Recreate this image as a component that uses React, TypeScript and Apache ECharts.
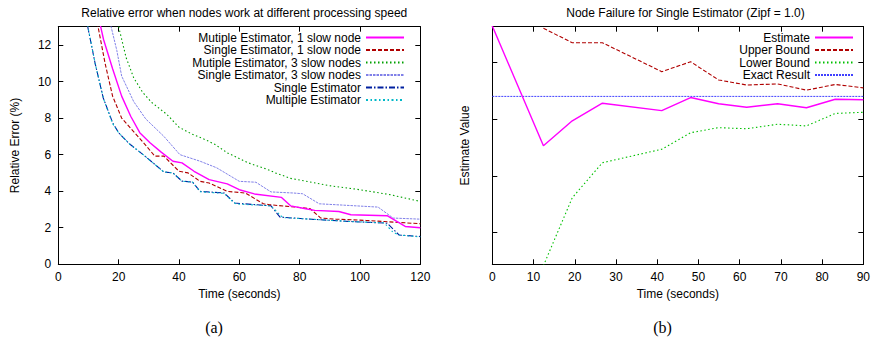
import React, { useEffect, useRef } from "react";
import * as echarts from "echarts";

const FONT = "'Liberation Sans', Arial, Helvetica, sans-serif";

// ---------- Chart (a): relative error (%) vs time (s) ----------
const leftTitle = "Relative error when nodes work at different processing speed";
const leftXTicks = { min: 0, max: 120, interval: 20 };
const leftYTicks = { min: 0, max: 13, interval: 2 };

const multi1Slow: [number, number][] = [
  [12, 14.5], [15, 12.3], [18, 10.7], [21, 9.2], [24, 8.1], [27, 7.2], [30.4, 6.65], [34, 6.15],
  [38, 5.64], [41, 5.55], [45, 5.09], [50, 4.63], [56, 4.4], [60, 4.08], [65, 3.85], [74, 3.66],
  [77, 3.2], [82, 3.04], [85, 2.95], [93, 2.89], [97, 2.71], [109, 2.66], [115, 2.07], [120, 2.0],
];
const single1Slow: [number, number][] = [
  [11, 14.5], [13.3, 12.9], [15.5, 11.0], [18, 9.2], [21, 8.0], [24.3, 7.38], [28, 6.7], [32, 5.92],
  [35, 5.92], [40, 5.09], [43, 5.0], [47, 4.54], [50, 4.45], [56, 3.99], [62, 3.9], [68, 3.31],
  [70, 3.26], [80, 3.11], [83.5, 3.04], [87, 2.53], [92, 2.47], [102, 2.4], [108, 2.34], [120, 2.22],
];
const multi3Slow: [number, number][] = [
  [18, 14.5], [20, 13.0], [22.5, 11.3], [25, 10.2], [28, 9.4], [31, 8.85], [36, 8.2], [40, 7.5],
  [44, 7.15], [49, 6.8], [52, 6.55], [56, 6.1], [63, 5.55], [70, 5.15], [72, 5.0], [77, 4.7],
  [82, 4.55], [90, 4.3], [100, 4.08], [110, 3.81], [120, 3.44],
];
const single3Slow: [number, number][] = [
  [15, 15.5], [17.5, 13.0], [19.4, 11.7], [21, 10.3], [25, 8.9], [29, 7.95], [35, 7.0], [40.3, 6.0],
  [47, 5.64], [52.5, 5.28], [60, 4.54], [65.5, 4.49], [70.5, 3.96], [78, 3.9], [81, 3.86],
  [86.5, 3.31], [92, 3.26], [106, 3.13], [111, 2.53], [120, 2.47],
];
const singleEst: [number, number][] = [
  [8, 15.5], [9.75, 13.0], [12.2, 11.0], [14.9, 9.1], [18, 7.75], [20, 7.2], [23.5, 6.6], [28.5, 5.95],
  [35, 5.05], [38, 5.0], [41, 4.55], [44.5, 4.5], [47, 3.99], [55, 3.9], [58.5, 3.35], [70.5, 3.2],
  [73.5, 2.58], [83.5, 2.47], [97, 2.34], [109, 2.25], [113, 1.6], [120, 1.52],
];
const multiEst: [number, number][] = [
  [8, 15.4], [9.8, 13.0], [12.2, 11.0], [15, 9.05], [18, 7.7], [20, 7.2], [23.5, 6.6], [28.5, 5.95],
  [35, 5.05], [38, 5.0], [41, 4.55], [44.5, 4.5], [47, 3.97], [55, 3.88], [58, 3.4], [59, 3.3],
  [70.5, 3.2], [74, 2.62], [75, 2.55], [83.5, 2.47], [97, 2.34], [108, 2.27], [111, 1.75], [113, 1.6],
  [120, 1.5],
];

// ---------- Chart (b): node failure, estimate vs time (s) ----------
const rightTitle = "Node Failure for Single Estimator (Zipf = 1.0)";
const rightXTicks = { min: 0, max: 90, interval: 10 };
const rightYRange = { min: -0.556, max: 3.627 }; // unlabeled axis, ticks at whole units
const rightTimes = [0, 12.4, 19.4, 26.7, 41.1, 48.1, 54.9, 61.7, 69.2, 76.2, 83.2, 90];
const estimate = [3.64, 1.53, 1.97, 2.28, 2.15, 2.38, 2.27, 2.21, 2.27, 2.2, 2.35, 2.34];
const upperBound = [null, 3.6, 3.345, 3.345, 2.835, 3.01, 2.69, 2.6, 2.62, 2.51, 2.61, 2.55];
const lowerBound = [null, -0.58, 0.616, 1.232, 1.47, 1.76, 1.85, 1.83, 1.91, 1.88, 2.1, 2.12];
const exactResult = [2.4, 2.4, 2.4, 2.4, 2.4, 2.4, 2.4, 2.4, 2.4, 2.4, 2.4, 2.4];

const captions = ["(a)", "(b)"];

const zipT = (vals: (number | null)[]) => rightTimes.map((t, i) => [t, vals[i]]);

export default function App() {
  const ref = useRef<HTMLDivElement>(null);
  useEffect(() => {
    if (!ref.current) return;
    const chart = echarts.init(ref.current, undefined, { renderer: "svg" });
    const axisLine = { show: true, onZero: false, lineStyle: { color: "#000", width: 1 } };
    const tick = { show: true, inside: true, length: 5, lineStyle: { color: "#000" } };
    const label = { color: "#000", fontSize: 12, fontFamily: FONT };
    const nameStyle = { color: "#000", fontSize: 12, fontFamily: FONT };

    const line = (name: string, data: any, x: number, y: number, color: string, width: number, type: any, z = 2) => ({
      name,
      type: "line",
      xAxisIndex: x,
      yAxisIndex: y,
      data,
      symbol: "none",
      showSymbol: false,
      clip: true,
      z,
      lineStyle: { color, width, type },
      itemStyle: { color },
    });

    const legendBase = {
      orient: "vertical",
      align: "right",
      top: 31.5,
      itemWidth: 38,
      itemHeight: 8,
      itemGap: 0.5,
      selectedMode: false,
      padding: 0,
      itemStyle: { opacity: 0 },
      textStyle: { fontSize: 12, color: "#000", fontFamily: FONT },
    };

    const option: any = {
      animation: false,
      backgroundColor: "#fff",
      textStyle: { fontFamily: FONT },
      title: [
        { text: leftTitle, left: 239.3, top: 2, textAlign: "center", textStyle: { fontSize: 12, fontWeight: "normal", color: "#000", fontFamily: FONT } },
        { text: rightTitle, left: 680.5, top: 2, textAlign: "center", textStyle: { fontSize: 12, fontWeight: "normal", color: "#000", fontFamily: FONT } },
      ],
      grid: [
        { left: 58.3, right: 452.7, top: 26.7, bottom: 80.7, containLabel: false },
        { left: 492.3, right: 4.6, top: 26.7, bottom: 80.7, containLabel: false },
      ],
      legend: [
        {
          ...legendBase,
          right: 468,
          data: [
            "Mutiple Estimator, 1 slow node",
            "Single Estimator, 1 slow node",
            "Mutiple Estimator, 3 slow nodes",
            "Single Estimator, 3 slow nodes",
            "Single Estimator",
            "Multiple Estimator",
          ],
        },
        {
          ...legendBase,
          right: 19,
          data: ["Estimate", "Upper Bound", "Lower Bound", "Exact Result"],
        },
      ],
      xAxis: [
        {
          type: "value", gridIndex: 0, position: "bottom", ...leftXTicks,
          name: "Time (seconds)", nameLocation: "middle", nameGap: 24, nameTextStyle: nameStyle,
          axisLine, axisTick: tick, splitLine: { show: false }, axisLabel: { ...label, margin: 7 },
        },
        {
          type: "value", gridIndex: 0, position: "top", ...leftXTicks,
          axisLine, axisTick: tick, splitLine: { show: false }, axisLabel: { show: false },
        },
        {
          type: "value", gridIndex: 1, position: "bottom", ...rightXTicks,
          name: "Time (seconds)", nameLocation: "middle", nameGap: 24, nameTextStyle: nameStyle,
          axisLine, axisTick: tick, splitLine: { show: false }, axisLabel: { ...label, margin: 7 },
        },
        {
          type: "value", gridIndex: 1, position: "top", ...rightXTicks,
          axisLine, axisTick: tick, splitLine: { show: false }, axisLabel: { show: false },
        },
      ],
      yAxis: [
        {
          type: "value", gridIndex: 0, position: "left", ...leftYTicks,
          name: "Relative Error (%)", nameLocation: "middle", nameGap: 37, nameTextStyle: nameStyle,
          axisLine, axisTick: tick, splitLine: { show: false },
          axisLabel: { ...label, margin: 7, showMaxLabel: false, formatter: (v: number) => (v % 2 === 0 ? String(v) : "") },
        },
        {
          type: "value", gridIndex: 0, position: "right", ...leftYTicks,
          axisLine, axisTick: tick, splitLine: { show: false }, axisLabel: { show: false },
        },
        {
          type: "value", gridIndex: 1, position: "left", ...rightYRange, minInterval: 1, maxInterval: 1,
          name: "Estimate Value", nameLocation: "middle", nameGap: 21, nameTextStyle: nameStyle,
          axisLine, axisTick: tick, splitLine: { show: false }, axisLabel: { show: false },
        },
        {
          type: "value", gridIndex: 1, position: "right", ...rightYRange, minInterval: 1, maxInterval: 1,
          axisLine, axisTick: tick, splitLine: { show: false }, axisLabel: { show: false },
        },
      ],
      series: [
        line("Mutiple Estimator, 1 slow node", multi1Slow, 0, 0, "#ff00ff", 1.4, "solid", 6),
        line("Single Estimator, 1 slow node", single1Slow, 0, 0, "#b00000", 1.1, [4, 2], 5),
        line("Mutiple Estimator, 3 slow nodes", multi3Slow, 0, 0, "#00a000", 1.1, [1.5, 2.5], 4),
        line("Single Estimator, 3 slow nodes", single3Slow, 0, 0, "#8080e8", 1, [2.5, 1], 3),
        line("Single Estimator", singleEst, 0, 0, "#0020a0", 1.1, [6, 2, 1.5, 2], 2),
        line("Multiple Estimator", multiEst, 0, 0, "#00b8c8", 1.1, [2, 2.5, 1.5, 2.5], 3),
        line("Estimate", zipT(estimate), 2, 2, "#ff00ff", 1.4, "solid", 6),
        line("Upper Bound", zipT(upperBound), 2, 2, "#b00000", 1.1, [4, 2], 5),
        line("Lower Bound", zipT(lowerBound), 2, 2, "#00c000", 1.1, [1.5, 2.5], 4),
        line("Exact Result", zipT(exactResult), 2, 2, "#4040ff", 1, [2, 1], 3),
      ],
      graphic: [
        { type: "text", x: 214, y: 327, style: { text: captions[0], font: "16px 'Liberation Serif', 'Times New Roman', serif", fill: "#000", align: "center", verticalAlign: "middle" } },
        { type: "text", x: 662.5, y: 327, style: { text: captions[1], font: "16px 'Liberation Serif', 'Times New Roman', serif", fill: "#000", align: "center", verticalAlign: "middle" } },
      ],
    };
    chart.setOption(option);
    return () => chart.dispose();
  }, []);
  return <div ref={ref} style={{ position: "fixed", left: 0, top: 0, width: 873, height: 345, background: "#fff" }} />;
}
